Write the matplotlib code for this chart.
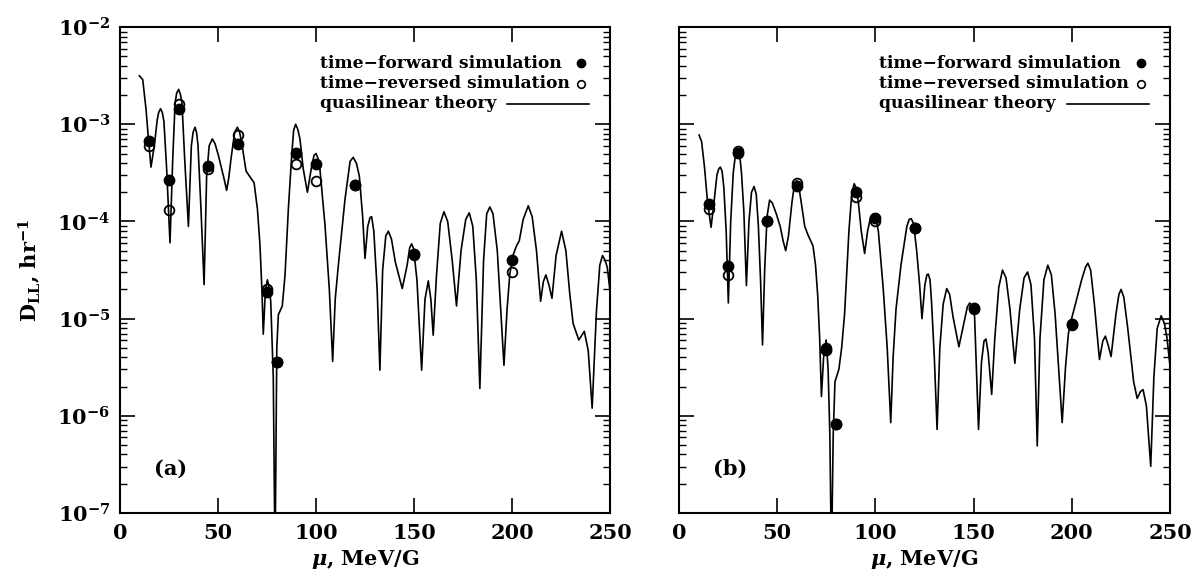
import math
import matplotlib
matplotlib.use("Agg")
import matplotlib.pyplot as plt
from matplotlib.ticker import LogLocator, FixedLocator, NullFormatter, FuncFormatter

# ---- data ----
# panel (a): quasilinear theory curve
mu_a = [9.9, 11.6, 13.3, 14.5, 15.8, 17.5, 19.0, 19.7, 20.7, 21.6, 22.4, 23.8, 25.5, 26.9,
        28.1, 28.9, 29.9, 30.8, 31.6, 33.0, 34.9, 36.4, 37.3, 38.3, 39.1, 39.8, 41.3, 42.9,
        44.2, 45.5, 47.1, 48.5, 50.2, 53.1, 54.4, 55.5, 56.6, 58.5, 59.9, 61.0, 62.1, 64.3,
        66.3, 68.4, 70.1, 71.4, 72.4, 73.1, 74.2, 75.2, 76.1, 76.9, 78.2, 79.1, 80.0, 80.8,
        82.8, 84.2, 85.9, 87.6, 88.6, 89.6, 90.7, 91.8, 93.5, 95.6, 97.8, 99.0, 100.0,
        101.0, 102.0, 104.6, 106.8, 108.5, 109.8, 111.4, 114.8, 117.4, 119.0, 120.6, 122.1,
        123.8, 125.0, 126.4, 127.6, 128.4, 129.5, 131.2, 132.6, 134.0, 135.6, 136.9, 138.5,
        140.5, 144.0, 146.5, 147.8, 148.8, 149.8, 151.5, 153.9, 155.6, 157.3, 158.6, 159.8,
        161.5, 163.4, 165.3, 167.2, 169.5, 171.7, 174.0, 176.4, 178.2, 180.0, 181.8, 183.6,
        185.5, 187.1, 188.7, 190.3, 192.5, 195.9, 197.5, 198.9, 200.5, 202.3, 203.7, 205.7,
        208.3, 210.3, 212.5, 214.6, 216.0, 217.3, 218.8, 220.4, 222.5, 225.3, 227.5, 229.5,
        231.2, 234.1, 236.9, 238.9, 240.9, 243.1, 244.8, 246.2, 247.5, 248.6, 250.0]
dll_a = [3.16e-3, 2.88e-3, 1.41e-3, 7.08e-4, 3.63e-4, 6.03e-4, 1.12e-3, 1.32e-3, 1.45e-3,
         1.32e-3, 1.07e-3, 3.47e-4, 6.03e-5, 4.37e-4, 1.66e-3, 2.09e-3, 2.29e-3, 2.04e-3,
         1.66e-3, 4.37e-4, 8.91e-5, 6.03e-4, 8.32e-4, 9.33e-4, 8.13e-4, 6.03e-4, 1.35e-4,
         2.24e-5, 2.95e-4, 6.03e-4, 7.08e-4, 6.31e-4, 4.79e-4, 2.75e-4, 2.09e-4, 2.82e-4,
         4.37e-4, 8.32e-4, 9.33e-4, 8.32e-4, 6.46e-4, 3.31e-4, 2.88e-4, 2.51e-4, 1.35e-4,
         5.75e-5, 2.0e-5, 6.92e-6, 2.0e-5, 2.51e-5, 2.09e-5, 1.51e-5, 2.51e-6, 3e-8,
         5.01e-6, 1.10e-5, 1.35e-5, 2.82e-5, 1.35e-4, 4.79e-4, 8.71e-4, 1.0e-3, 8.91e-4,
         7.08e-4, 3.47e-4, 2.0e-4, 3.72e-4, 4.79e-4, 5.01e-4, 4.47e-4, 3.47e-4, 9.12e-5,
         2.0e-5, 3.63e-6, 1.58e-5, 3.55e-5, 1.70e-4, 4.17e-4, 4.57e-4, 3.98e-4, 2.95e-4,
         1.12e-4, 4.17e-5, 8.91e-5, 1.10e-4, 1.12e-4, 7.94e-5, 2.0e-5, 2.95e-6, 3.16e-5,
         7.08e-5, 7.94e-5, 6.61e-5, 3.80e-5, 2.04e-5, 3.55e-5, 5.37e-5, 5.89e-5, 5.25e-5,
         2.51e-5, 2.95e-6, 1.58e-5, 2.45e-5, 1.58e-5, 6.76e-6, 2.82e-5, 9.55e-5, 1.26e-4,
         1.0e-4, 3.98e-5, 1.35e-5, 5.01e-5, 1.05e-4, 1.23e-4, 8.91e-5, 2.51e-5, 1.91e-6,
         3.98e-5, 1.20e-4, 1.41e-4, 1.20e-4, 5.01e-5, 3.31e-6, 1.26e-5, 2.88e-5, 4.47e-5,
         5.62e-5, 6.31e-5, 1.05e-4, 1.45e-4, 1.12e-4, 5.01e-5, 1.51e-5, 2.40e-5, 2.82e-5,
         2.24e-5, 1.62e-5, 4.47e-5, 7.94e-5, 5.01e-5, 1.78e-5, 8.91e-6, 6.03e-6, 7.41e-6,
         4.68e-6, 1.20e-6, 1.20e-5, 3.55e-5, 4.47e-5, 3.98e-5, 3.39e-5, 1.95e-5]

# panel (b): quasilinear theory curve
mu_b = [10.2, 11.5, 13.0, 14.5, 16.3, 17.8, 19.3, 20.2, 21.0, 21.9, 22.8, 24.0, 25.1, 26.3,
        27.6, 28.8, 29.8, 30.8, 31.8, 33.0, 34.3, 35.6, 36.9, 38.2, 39.3, 40.4, 41.5, 42.5,
        43.6, 44.8, 46.1, 47.5, 49.5, 51.5, 53.0, 54.3, 55.7, 57.5, 58.7, 59.8, 60.9, 62.2,
        64.0, 65.7, 68.2, 69.5, 70.6, 71.6, 72.5, 73.6, 74.9, 75.9, 76.8, 77.6, 78.5, 79.4,
        81.4, 82.8, 84.3, 86.5, 88.0, 89.2, 90.3, 91.3, 92.8, 94.5, 96.0, 97.6, 99.0, 100.2,
        101.5, 104.0, 106.0, 107.8, 109.0, 110.5, 113.0, 116.0, 117.2, 118.2, 119.4, 121.0,
        122.5, 123.7, 125.2, 126.2, 126.9, 127.8, 128.5, 130.0, 131.4, 132.8, 134.5, 136.3,
        137.8, 139.5, 142.5, 145.0, 146.8, 148.0, 149.2, 150.5, 152.5, 154.0, 155.3, 156.3,
        157.4, 159.2, 160.8, 162.8, 164.7, 166.5, 168.5, 171.0, 173.5, 175.7, 177.5, 179.2,
        181.0, 182.4, 183.8, 185.8, 187.8, 189.6, 191.5, 195.1, 196.8, 198.3, 199.5, 202.0,
        205.0, 207.0, 208.2, 209.6, 211.5, 214.1, 215.8, 217.1, 218.5, 220.0, 222.5, 224.0,
        225.1, 226.5, 228.5, 231.5, 233.3, 235.0, 236.3, 238.0, 240.2, 241.8, 243.5, 245.5,
        247.2, 248.5, 249.8]
dll_b = [7.76e-4, 6.61e-4, 3.55e-4, 1.58e-4, 8.71e-5, 1.58e-4, 3.02e-4, 3.47e-4, 3.63e-4,
         3.31e-4, 2.24e-4, 7.94e-5, 1.45e-5, 1.0e-4, 3.16e-4, 5.01e-4, 5.50e-4, 5.01e-4,
         3.16e-4, 1.26e-4, 2.19e-5, 1.0e-4, 2.0e-4, 2.29e-4, 1.91e-4, 8.91e-5, 2.51e-5,
         5.37e-6, 3.16e-5, 1.12e-4, 1.66e-4, 1.55e-4, 1.20e-4, 8.91e-5, 6.31e-5, 5.01e-5,
         7.08e-5, 1.58e-4, 2.34e-4, 2.63e-4, 2.34e-4, 1.58e-4, 8.91e-5, 7.24e-5, 5.62e-5,
         3.55e-5, 1.74e-5, 6.31e-6, 1.58e-6, 3.98e-6, 6.03e-6, 3.02e-6, 6.31e-7, 3e-8,
         6.31e-7, 2.24e-6, 3.02e-6, 5.01e-6, 1.12e-5, 7.94e-5, 2.0e-4, 2.45e-4, 2.19e-4,
         1.58e-4, 7.94e-5, 4.68e-5, 7.94e-5, 1.12e-4, 1.20e-4, 1.10e-4, 7.94e-5, 2.0e-5,
         5.01e-6, 8.51e-7, 3.98e-6, 1.26e-5, 3.55e-5, 8.91e-5, 1.05e-4, 1.07e-4, 9.55e-5,
         5.01e-5, 2.24e-5, 1.0e-5, 2.24e-5, 2.82e-5, 2.88e-5, 2.51e-5, 1.58e-5, 3.98e-6,
         7.24e-7, 5.01e-6, 1.41e-5, 2.04e-5, 1.78e-5, 1.05e-5, 5.13e-6, 8.91e-6, 1.32e-5,
         1.45e-5, 1.35e-5, 1.05e-5, 7.24e-7, 3.55e-6, 5.89e-6, 6.17e-6, 4.47e-6, 1.66e-6,
         6.31e-6, 2.09e-5, 3.16e-5, 2.63e-5, 1.26e-5, 3.47e-6, 1.26e-5, 2.63e-5, 3.02e-5,
         2.24e-5, 6.31e-6, 4.90e-7, 6.31e-6, 2.51e-5, 3.55e-5, 2.82e-5, 1.12e-5, 8.51e-7,
         3.16e-6, 7.08e-6, 9.33e-6, 1.45e-5, 2.51e-5, 3.39e-5, 3.72e-5, 3.16e-5, 1.41e-5,
         3.80e-6, 5.89e-6, 6.61e-6, 5.37e-6, 4.07e-6, 1.12e-5, 1.78e-5, 2.0e-5, 1.66e-5,
         7.94e-6, 2.24e-6, 1.51e-6, 1.78e-6, 1.86e-6, 1.26e-6, 3.02e-7, 2.51e-6, 7.94e-6,
         1.07e-5, 8.91e-6, 6.31e-6, 3.55e-6]

# simulation points
sim_mu = [15, 25, 30, 45, 60, 75, 80, 90, 100, 120, 150, 200]
fwd_a = [6.7e-4, 2.7e-4, 1.44e-3, 3.7e-4, 6.3e-4, 1.9e-5, 3.6e-6, 5.1e-4, 3.9e-4, 2.4e-4, 4.6e-5, 4.0e-5]
rev_a = [6.0e-4, 1.3e-4, 1.6e-3, 3.5e-4, 7.8e-4, 2.0e-5, 3.6e-6, 3.9e-4, 2.6e-4, 2.4e-4, 4.5e-5, 3.0e-5]
fwd_b = [1.5e-4, 3.5e-5, 5.1e-4, 1.0e-4, 2.3e-4, 4.8e-6, 8.3e-7, 2.0e-4, 1.08e-4, 8.6e-5, 1.3e-5, 8.9e-6]
rev_b = [1.35e-4, 2.8e-5, 5.3e-4, 1.0e-4, 2.5e-4, 5.0e-6, 8.3e-7, 1.8e-4, 1.0e-4, 8.6e-5, 1.25e-5, 8.6e-6]

x_ticks = [0, 50, 100, 150, 200, 250]
y_ticks = [1e-7, 1e-6, 1e-5, 1e-4, 1e-3, 1e-2]
legend_labels = ["time\u2212forward simulation", "time\u2212reversed simulation", "quasilinear theory"]

plt.rcParams['font.family'] = 'DejaVu Serif'
plt.rcParams['font.weight'] = 'bold'
plt.rcParams['mathtext.fontset'] = 'dejavuserif'

fig = plt.figure(figsize=(11.93, 5.78), dpi=100)
ax_a = fig.add_axes([0.1006, 0.1125, 0.4107, 0.8405])
ax_b = fig.add_axes([0.5692, 0.1125, 0.4115, 0.8405])


def style_axis(ax, show_ylabels):
    ax.set_yscale('log')
    ax.set_xlim(0, 250)
    ax.set_ylim(1e-7, 1e-2)
    ax.xaxis.set_major_locator(FixedLocator(x_ticks))
    ax.yaxis.set_major_locator(FixedLocator(y_ticks))
    ax.yaxis.set_minor_locator(LogLocator(base=10, subs=range(2, 10), numticks=20))
    ax.yaxis.set_minor_formatter(NullFormatter())
    if show_ylabels:
        ax.yaxis.set_major_formatter(FuncFormatter(
            lambda v, p: r'$\mathbf{10^{%d}}$' % round(math.log10(v))))
    else:
        ax.yaxis.set_major_formatter(NullFormatter())
    ax.tick_params(which='major', direction='in', length=11, width=1.2,
                   top=True, right=True, labelsize=15, pad=7)
    ax.tick_params(which='minor', direction='in', length=5, width=1.0,
                   top=True, right=True)
    for s in ax.spines.values():
        s.set_linewidth(1.5)
    ax.set_xlabel(r'$\mu$, MeV/G', fontsize=15, fontweight='bold', labelpad=4)


def draw_panel(ax, mu, dll, fwd, rev, tag, show_ylabels):
    style_axis(ax, show_ylabels)
    ax.plot(mu, dll, color='black', lw=1.2)
    ax.plot(sim_mu, fwd, 'o', color='black', ms=7.5, zorder=3)
    ax.plot(sim_mu, rev, 'o', mfc='none', mec='black', mew=1.3, ms=7, zorder=4)
    ax.text(0.07, 0.09, tag, transform=ax.transAxes, fontsize=15,
            fontweight='bold', va='center')

    # legend block
    rows = [0.926, 0.884, 0.842]
    for lab, yy in zip(legend_labels, rows):
        ax.text(0.408, yy, lab, transform=ax.transAxes, fontsize=12.3,
                fontweight='bold', va='center', ha='left')
    ax.plot([0.94], [rows[0]], 'o', color='black', ms=6, transform=ax.transAxes)
    ax.plot([0.94], [rows[1]], 'o', mfc='none', mec='black', mew=1.2, ms=5.5,
            transform=ax.transAxes)
    ax.plot([0.79, 0.958], [rows[2], rows[2]], color='black', lw=1.2,
            transform=ax.transAxes)


draw_panel(ax_a, mu_a, dll_a, fwd_a, rev_a, '(a)', True)
draw_panel(ax_b, mu_b, dll_b, fwd_b, rev_b, '(b)', False)
ax_a.set_ylabel(r'$\mathbf{D_{LL}}$, hr$^{\mathbf{-1}}$', fontsize=15,
                fontweight='bold', labelpad=10)

fig.savefig('out.png', dpi=100)
